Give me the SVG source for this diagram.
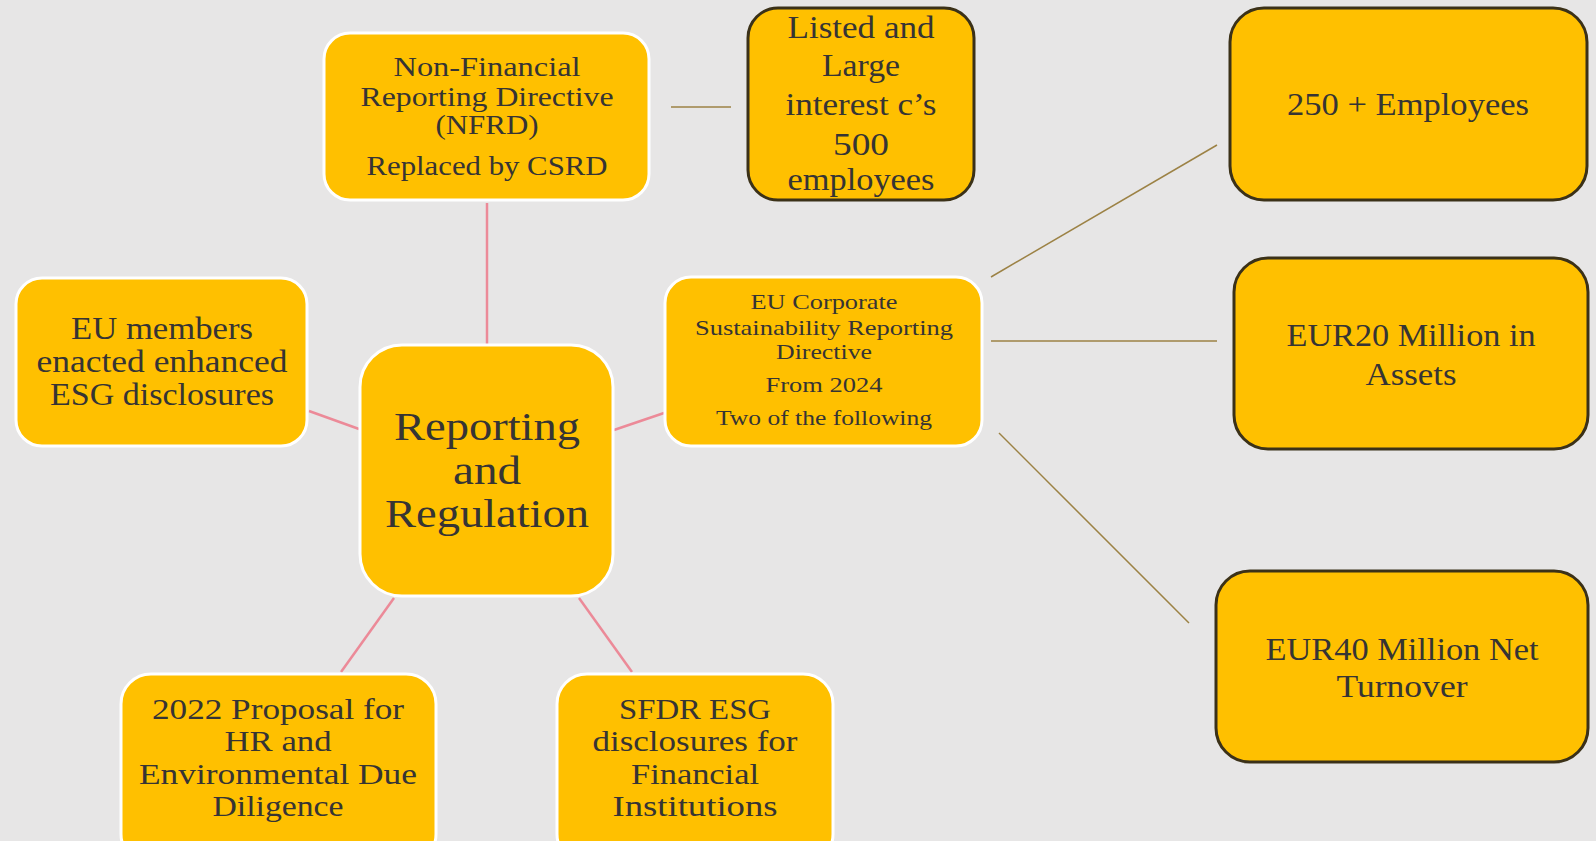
<svg xmlns="http://www.w3.org/2000/svg" width="1596" height="841" viewBox="0 0 1596 841">
<style>
.bg{fill:#e7e6e6}
.nw{fill:#ffc000;stroke:#ffffff;stroke-width:3}
.nd{fill:#ffc000;stroke:#3b3118;stroke-width:3}
.t{font-family:"Liberation Serif","Times New Roman",serif;fill:#363434;text-anchor:middle}
.pk{stroke:#ec8a98;stroke-width:2.5;fill:none}
.br{stroke:#9c8245;stroke-width:1.5;fill:none}
</style>
<rect class="bg" x="0" y="0" width="1596" height="841"/>
<g id="connectors">
<line class="pk" x1="487" y1="203" x2="487" y2="344"/>
<line class="pk" x1="309" y1="411" x2="359" y2="429"/>
<line class="pk" x1="614" y1="430" x2="664" y2="413"/>
<line class="pk" x1="394" y1="598" x2="341" y2="672"/>
<line class="pk" x1="579" y1="598" x2="632" y2="672"/>
<line class="br" x1="671" y1="107" x2="731" y2="107"/>
<line class="br" x1="991" y1="277" x2="1217" y2="145"/>
<line class="br" x1="991" y1="341" x2="1217" y2="341"/>
<line class="br" x1="999" y1="433" x2="1189" y2="623"/>
</g>
<g id="center">
<rect class="nw" x="360" y="345" width="253" height="251" rx="42"/>
<text class="t" font-size="40"><tspan x="487" y="440" textLength="186" lengthAdjust="spacingAndGlyphs">Reporting</tspan><tspan x="487" y="484" textLength="68" lengthAdjust="spacingAndGlyphs">and</tspan><tspan x="487" y="527" textLength="204" lengthAdjust="spacingAndGlyphs">Regulation</tspan></text>
</g>
<g id="nfrd">
<rect class="nw" x="324" y="33" width="325" height="167" rx="26"/>
<text class="t" font-size="27"><tspan x="487" y="76" textLength="187" lengthAdjust="spacingAndGlyphs">Non-Financial</tspan><tspan x="487" y="106" textLength="253" lengthAdjust="spacingAndGlyphs">Reporting Directive</tspan><tspan x="487" y="134" textLength="103" lengthAdjust="spacingAndGlyphs">(NFRD)</tspan><tspan x="487" y="175" textLength="241" lengthAdjust="spacingAndGlyphs">Replaced by CSRD</tspan></text>
</g>
<g id="listed">
<rect class="nd" x="748" y="8" width="226" height="192" rx="30"/>
<text class="t" font-size="32"><tspan x="861" y="38" textLength="147" lengthAdjust="spacingAndGlyphs">Listed and</tspan><tspan x="861" y="76" textLength="78" lengthAdjust="spacingAndGlyphs">Large</tspan><tspan x="861" y="115" textLength="151" lengthAdjust="spacingAndGlyphs">interest c’s</tspan><tspan x="861" y="155" textLength="56" lengthAdjust="spacingAndGlyphs">500</tspan><tspan x="861" y="190" textLength="147" lengthAdjust="spacingAndGlyphs">employees</tspan></text>
</g>
<g id="emp250">
<rect class="nd" x="1230" y="8" width="357" height="192" rx="34"/>
<text class="t" font-size="32"><tspan x="1408" y="115" textLength="242" lengthAdjust="spacingAndGlyphs">250 + Employees</tspan></text>
</g>
<g id="eur20">
<rect class="nd" x="1234" y="258" width="354" height="191" rx="34"/>
<text class="t" font-size="32"><tspan x="1411" y="346" textLength="249" lengthAdjust="spacingAndGlyphs">EUR20 Million in</tspan><tspan x="1411" y="385" textLength="91" lengthAdjust="spacingAndGlyphs">Assets</tspan></text>
</g>
<g id="eur40">
<rect class="nd" x="1216" y="571" width="372" height="191" rx="34"/>
<text class="t" font-size="32"><tspan x="1402" y="660" textLength="273" lengthAdjust="spacingAndGlyphs">EUR40 Million Net</tspan><tspan x="1402" y="697" textLength="131" lengthAdjust="spacingAndGlyphs">Turnover</tspan></text>
</g>
<g id="csrd">
<rect class="nw" x="665" y="277" width="317" height="169" rx="26"/>
<text class="t" font-size="22"><tspan x="824" y="309" textLength="147" lengthAdjust="spacingAndGlyphs">EU Corporate</tspan><tspan x="824" y="335" textLength="258" lengthAdjust="spacingAndGlyphs">Sustainability Reporting</tspan><tspan x="824" y="359" textLength="96" lengthAdjust="spacingAndGlyphs">Directive</tspan><tspan x="824" y="392" textLength="117" lengthAdjust="spacingAndGlyphs">From 2024</tspan><tspan x="824" y="425" textLength="216" lengthAdjust="spacingAndGlyphs">Two of the following</tspan></text>
</g>
<g id="eumembers">
<rect class="nw" x="16" y="278" width="291" height="168" rx="26"/>
<text class="t" font-size="31"><tspan x="162" y="339" textLength="182" lengthAdjust="spacingAndGlyphs">EU members</tspan><tspan x="162" y="372" textLength="251" lengthAdjust="spacingAndGlyphs">enacted enhanced</tspan><tspan x="162" y="405" textLength="224" lengthAdjust="spacingAndGlyphs">ESG disclosures</tspan></text>
</g>
<g id="proposal">
<rect class="nw" x="121" y="674" width="315" height="190" rx="30"/>
<text class="t" font-size="30"><tspan x="278" y="719" textLength="252" lengthAdjust="spacingAndGlyphs">2022 Proposal for</tspan><tspan x="278" y="751" textLength="107" lengthAdjust="spacingAndGlyphs">HR and</tspan><tspan x="278" y="784" textLength="278" lengthAdjust="spacingAndGlyphs">Environmental Due</tspan><tspan x="278" y="816" textLength="131" lengthAdjust="spacingAndGlyphs">Diligence</tspan></text>
</g>
<g id="sfdr">
<rect class="nw" x="557" y="674" width="276" height="190" rx="30"/>
<text class="t" font-size="30"><tspan x="695" y="719" textLength="152" lengthAdjust="spacingAndGlyphs">SFDR ESG</tspan><tspan x="695" y="751" textLength="205" lengthAdjust="spacingAndGlyphs">disclosures for</tspan><tspan x="695" y="784" textLength="128" lengthAdjust="spacingAndGlyphs">Financial</tspan><tspan x="695" y="816" textLength="165" lengthAdjust="spacingAndGlyphs">Institutions</tspan></text>
</g>
</svg>
